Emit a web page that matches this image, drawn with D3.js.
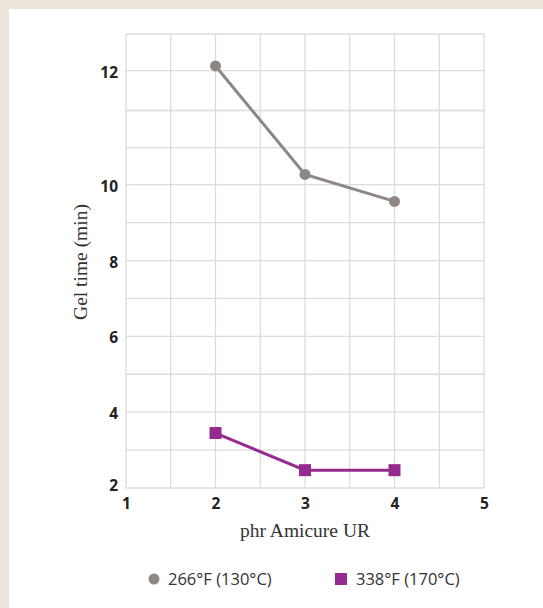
<!DOCTYPE html>
<html><head><meta charset="utf-8">
<script src="https://cdn.jsdelivr.net/npm/d3@7"></script>
<style>
html,body{margin:0;padding:0;background:#ece5dc;}
svg{display:block;}
</style></head>
<body>
<svg id="chart" width="543" height="608"></svg>
<script>
const xValues = [2, 3, 4];
const series266 = [12.08, 10.18, 9.56];
const series338 = [3.45, 2.47, 2.47];
const seriesNames = ["266°F (130°C)", "338°F (170°C)"];
const xTicks = [1, 2, 3, 4, 5];
const xGrid = [1, 1.5, 2, 2.5, 3, 3.5, 4, 4.5, 5];
const yTicks = [2, 4, 6, 8, 10, 12];
const yGrid = [2, 3, 4, 5, 6, 7, 8, 9, 10, 10.65, 11.3, 12, 12.64];

const svg = d3.select("#chart");
svg.append("rect").attr("x", 9).attr("y", 9).attr("width", 534).attr("height", 599).attr("fill", "#ffffff");

const pLeft = 126, pRight = 484, pTop = 34, pBottom = 488;
const x = d3.scaleLinear().domain([1, 5]).range([pLeft, pRight]);
const y = d3.scaleLinear().domain([2, 10, 12.64]).range([pBottom, 184.7, pTop]);

const grid = svg.append("g");
grid.selectAll("line.v").data(xGrid).join("line")
  .attr("x1", d => x(d)).attr("x2", d => x(d))
  .attr("y1", pTop).attr("y2", pBottom)
  .attr("stroke", "#dcdcdc").attr("stroke-width", 1.3);
grid.selectAll("line.h").data(yGrid).join("line")
  .attr("x1", pLeft).attr("x2", pRight)
  .attr("y1", d => y(d)).attr("y2", d => y(d))
  .attr("stroke", "#dcdcdc").attr("stroke-width", 1.3);

const xAxis = d3.axisBottom(x).tickValues(xTicks).tickSize(0).tickPadding(10).tickFormat(d3.format("d"));
const gx = svg.append("g").attr("transform", `translate(0,${pBottom})`).call(xAxis);
gx.select(".domain").remove();
gx.selectAll("text").attr("font-family", "'Open Sans', sans-serif").attr("font-weight", "bold")
  .attr("font-size", 15.5).attr("fill", "#222");

const yAxis = d3.axisLeft(y).tickValues(yTicks).tickSize(0).tickPadding(8).tickFormat(d3.format("d"));
const gy = svg.append("g").attr("transform", `translate(${pLeft},0)`).call(yAxis);
gy.select(".domain").remove();
gy.selectAll("text").attr("font-family", "'Open Sans', sans-serif").attr("font-weight", "bold")
  .attr("font-size", 15.5).attr("fill", "#222")
  .attr("dy", d => d === 2 ? "0.15em" : "0.42em");

svg.append("text").attr("x", x(3)).attr("y", 537).attr("text-anchor", "middle")
  .attr("font-family", "'Liberation Serif', serif").attr("font-size", 19.5).attr("fill", "#333")
  .text("phr Amicure UR");
svg.append("text").attr("transform", `translate(87,${(pTop + pBottom) / 2 + 1}) rotate(-90)`)
  .attr("text-anchor", "middle")
  .attr("font-family", "'Liberation Serif', serif").attr("font-size", 19.5).attr("fill", "#333")
  .text("Gel time (min)");

const grayC = "#8f8783", purpleC = "#952a8f";
const line = d3.line().x((d, i) => x(xValues[i])).y(d => y(d));

svg.append("path").datum(series266).attr("d", line).attr("fill", "none")
  .attr("stroke", grayC).attr("stroke-width", 3);
svg.selectAll("circle.g").data(series266).join("circle")
  .attr("cx", (d, i) => x(xValues[i])).attr("cy", d => y(d)).attr("r", 5.5).attr("fill", grayC);

svg.append("path").datum(series338).attr("d", line).attr("fill", "none")
  .attr("stroke", purpleC).attr("stroke-width", 3);
svg.selectAll("rect.p").data(series338).join("rect")
  .attr("x", (d, i) => x(xValues[i]) - 6).attr("y", d => y(d) - 6)
  .attr("width", 12).attr("height", 12).attr("fill", purpleC);

const lg = svg.append("g").attr("font-family", "'Open Sans', sans-serif").attr("font-size", 16.5).attr("fill", "#333");
lg.append("circle").attr("cx", 154).attr("cy", 579).attr("r", 5.5).attr("fill", grayC);
lg.append("text").attr("x", 168).attr("y", 585).text(seriesNames[0]);
lg.append("rect").attr("x", 335).attr("y", 573).attr("width", 12).attr("height", 12).attr("fill", purpleC);
lg.append("text").attr("x", 356).attr("y", 585).text(seriesNames[1]);
</script>
</body></html>
